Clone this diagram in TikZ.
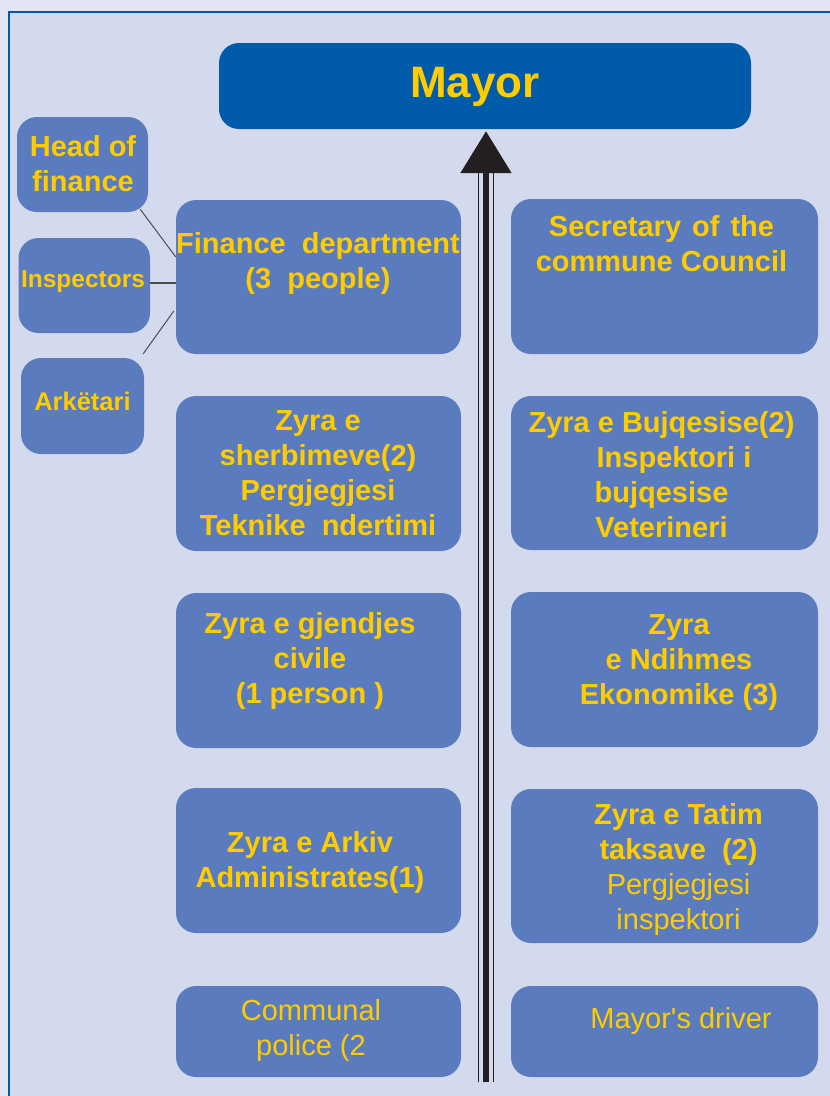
\documentclass[tikz,border=0pt]{standalone}
\usepackage{fontspec}
\setmainfont{Liberation Sans}[Ligatures=TeXOff]
\usetikzlibrary{calc,arrows.meta}
\definecolor{outerbg}{HTML}{E1E5F4}
\definecolor{innerbg}{HTML}{D4DAED}
\definecolor{frameblue}{HTML}{0059A8}
\definecolor{boxblue}{HTML}{5A7BBE}
\definecolor{mayorblue}{HTML}{005BAA}
\definecolor{gold}{HTML}{FFCC00}
\definecolor{shaft}{HTML}{231F20}
\definecolor{conngray}{HTML}{6E6E6E}
\newcommand\bxfont{\fontsize{29}{35}\selectfont\bfseries}
\newcommand\rgfont{\fontsize{29}{35}\selectfont}
\begin{document}
\begin{tikzpicture}[x=1pt,y=-1pt,
  box/.style={draw=none,fill=boxblue,rounded corners=20pt,inner sep=0pt,
    minimum width=285pt},
  rbox/.style={box,minimum width=307pt},
  sbox/.style={draw=none,fill=boxblue,rounded corners=20pt,inner sep=0pt},
  txt/.style={text=gold,align=center,inner sep=0pt,font=\bxfont},
  rtxt/.style={text=gold,align=center,inner sep=0pt,font=\rgfont},
  conn/.style={draw=conngray,line width=1.2pt},
  side/.style={draw=shaft!80,line width=1pt},
  thin/.style={draw=shaft,line width=1.3pt}]
% background and frame
\useasboundingbox (0,0) rectangle (830,1096);
\fill[outerbg] (0,0) rectangle (830,1096);
\filldraw[fill=innerbg,draw=frameblue,line width=2.5pt] (9,12) rectangle (845,1110);
% Mayor
\node[draw=none,fill=mayorblue,rounded corners=20pt,minimum width=532pt,minimum height=86pt,inner sep=0pt] (mayor) at (485,86) {};
\node[text=gold,inner sep=0pt,font=\fontsize{44}{50}\selectfont\bfseries] (mayort) at (475,86.5) {Mayor};
% left small boxes
\node[sbox,minimum width=131pt,minimum height=95pt] (hof) at (82.5,164.5) {};
\node[sbox,minimum width=131.5pt,minimum height=95pt] (insp) at (84.25,285.5) {};
\node[sbox,minimum width=123pt,minimum height=96pt] (ark) at (82.5,406) {};
\node[txt,font=\fontsize{29}{35}\selectfont\bfseries] (hoft) at (83,163.5) {Head of\\finance};
\node[txt,font=\fontsize{24.5}{30}\selectfont\bfseries] (inspt) at (83,282) {Inspectors};
\node[txt,font=\fontsize{25.5}{30}\selectfont\bfseries] (arkt) at (82.5,401) {Ark\"etari};
% main boxes
\node[box,minimum height=154pt] (fin) at (318.5,277) {};
\node[rbox,minimum height=155pt] (sec) at (664.5,276.5) {};
\node[box,minimum height=155pt] (serb) at (318.5,473.5) {};
\node[rbox,minimum height=154pt] (buj) at (664.5,473) {};
\node[box,minimum height=155pt] (gjen) at (318.5,670.5) {};
\node[rbox,minimum height=155pt] (ndih) at (664.5,669.5) {};
\node[box,minimum height=145pt] (arkiv) at (318.5,860.5) {};
\node[rbox,minimum height=154pt] (tat) at (664.5,866) {};
\node[box,minimum height=91pt] (pol) at (318.5,1031.5) {};
\node[rbox,minimum height=91pt] (drv) at (664.5,1031.5) {};
% texts
\node[txt] (fint) at (318,263.5) {Finance\ \ department\\(3\ \ people)};
\node[txt] (sect) at (661.5,243.5) {Secretary\hspace{11pt}of\hspace{11pt}the\\commune Council};
\node[txt] (serbt) at (318,473.5) {Zyra e\\sherbimeve(2)\\Pergjegjesi\\Teknike\ \ ndertimi};
\node[txt] (bujt) at (661.5,474.5) {Zyra e Bujqesise(2)\\\hspace*{25pt}Inspektori i\\bujqesise\\Veterineri};
\node[txt] (gjent) at (310,661) {Zyra e gjendjes\\civile\\(1 person )};
\node[txt] (ndiht) at (679,663) {Zyra\\e Ndihmes\\Ekonomike (3)};
\node[txt] (arkivt) at (310,862.5) {Zyra e Arkiv\\Administrates(1)};
\node[rtxt] (tatt) at (678.5,869.5) {{\bfseries Zyra e Tatim}\\{\bfseries taksave\ \ (2)}\\Pergjegjesi\\inspektori};
\node[rtxt] (polt) at (311,1030.5) {Communal\\police (2};
\node[rtxt] (drvt) at (681,1021) {Mayor's driver};
% side connectors
\draw[side] ($(hof.south east)+(-8,-3)$) -- ($(fin.west)+(0,-20)$);
\draw[side,line width=1.5pt,draw=conngray!70!black] ($(insp.east)+(0,-2.5)$) -- ($(fin.west)+(0,6)$);
\draw[side] ($(ark.north east)+(-1,-4)$) -- ($(fin.west)+(-2,34)$);
% vertical spine
\coordinate (bot) at (486,1082);
\coordinate (botl) at (478.7,1082);
\coordinate (botr) at (493.3,1082);
\coordinate (topl) at (478.7,173);
\coordinate (topr) at (493.3,173);
\draw[thin] (botl) -- (topl);
\draw[thin] (botr) -- (topr);
\draw[draw=shaft,line width=5.6pt,-{Triangle[width=50pt,length=42pt]},shorten >=0pt] (bot) -- ($(mayor.south)+(1,2)$);
% horizontal connectors
\foreach \a/\b/\d in {fin/sec/0,serb/buj/0,gjen/ndih/3,arkiv/tat/-3,pol/drv/0}{
  \draw[conn] ($(\a.east)+(0,\d-2.5)$) -- ($(\a.east)+(0,\d-2.5)$ -| \b.west);
  \draw[conn] ($(\a.east)+(0,\d+2.5)$) -- ($(\a.east)+(0,\d+2.5)$ -| \b.west);
}
\end{tikzpicture}
\end{document}
